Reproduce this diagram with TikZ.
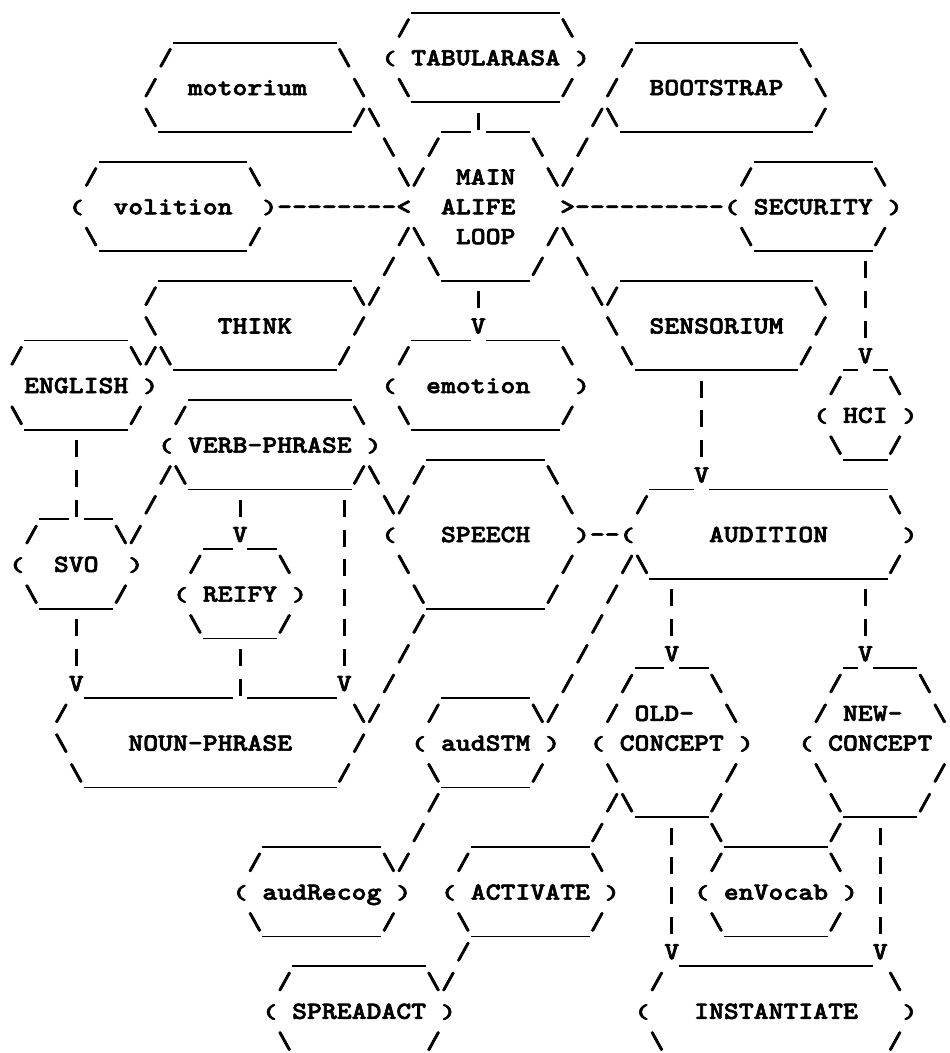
\documentclass[tikz,border=0pt]{standalone}
\usepackage{graphicx}
\usepackage{fontspec}
\setmonofont{lmmonolt10-bold.otf}[FakeStretch=1.15,FakeBold=2.5]
\newlength\cw
\setlength\cw{7.445pt}
\newcommand\artbar{\rule[-4pt]{\cw}{0.9pt}}
\newcommand\artpipe{\rule[-2.3pt]{1.5pt}{8.5pt}}
\newcommand\artend{}
\let\artvert=|
\let\artlp=(
\let\artrp=)
\def\artloop#1{\ifx#1\artend\else\artcell{#1}\expandafter\artloop\fi}
\def\artcell#1{\ifx#1\artvert\makebox[\cw]{\artpipe}\else
  \ifx#1\artlp\makebox[\cw]{\raisebox{0.3pt}{\scalebox{1.05}[0.82]{(}}}\else
  \ifx#1\artrp\makebox[\cw]{\raisebox{0.3pt}{\scalebox{1.05}[0.82]{)}}}\else
  \makebox[\cw]{#1}\fi\fi\fi}
\begingroup
\catcode`\ =\active\catcode`\_=\active%
\gdef\artcodes{\catcode`\ =\active\catcode`\_=\active\catcode`\\=12\relax\def {\kern\cw}\def_{\artbar}}%
\endgroup
\newcommand\art{\begingroup\artcodes\artput}
\newcommand\artput[3]{\node[ascii] (r#1c#2) at (#2,#1) {\artloop#3\artend};\endgroup}
\tikzset{ascii/.style={font=\ttfamily\fontsize{12.3pt}{14.9pt}\selectfont,
  inner sep=0pt, outer sep=0pt, anchor=base west}}
\begin{document}
\begin{tikzpicture}[x=7.445pt, y=-14.9pt]
  \fill[white] (0.379,-0.192) rectangle (64.18,35.147);
  \path[use as bounding box] (0.379,-0.192) rectangle (64.18,35.147);
  \art{0}{28}{__________}
  \art{1}{12}{___________} \art{1}{27}{/} \art{1}{38}{\} \art{1}{43}{___________}
  \art{2}{11}{/} \art{2}{23}{\} \art{2}{26}{( TABULARASA )} \art{2}{42}{/} \art{2}{54}{\}
  \art{3}{10}{/} \art{3}{13}{motorium} \art{3}{24}{\  \__________/  /} \art{3}{44}{BOOTSTRAP} \art{3}{55}{\}
  \art{4}{10}{\_____________/\} \art{4}{30}{__|___} \art{4}{40}{/\_____________/}
  \art{5}{7}{__________} \art{5}{26}{\  /} \art{5}{36}{\  /} \art{5}{51}{________}
  \art{6}{6}{/} \art{6}{17}{\} \art{6}{27}{\/  MAIN  \/} \art{6}{50}{/} \art{6}{59}{\}
  \art{7}{5}{(  volition  )--------<} \art{7}{30}{ALIFE} \art{7}{38}{>----------( SECURITY )}
  \art{8}{6}{\__________/} \art{8}{27}{/\  LOOP  /\} \art{8}{50}{\________/}
  \art{9}{11}{_____________} \art{9}{26}{/  \______/  \} \art{9}{42}{_____________} \art{9}{58}{|}
  \art{10}{10}{/} \art{10}{24}{\/} \art{10}{32}{|} \art{10}{40}{\/} \art{10}{55}{\  |}
  \art{11}{2}{_______} \art{11}{10}{\} \art{11}{15}{THINK} \art{11}{24}{/} \art{11}{28}{____V_____} \art{11}{41}{\} \art{11}{44}{SENSORIUM} \art{11}{55}{/  |}
  \art{12}{1}{/} \art{12}{9}{\/\___________/} \art{12}{27}{/} \art{12}{38}{\} \art{12}{42}{\___________/} \art{12}{57}{_V_}
  \art{13}{2}{ENGLISH )} \art{13}{13}{___________} \art{13}{26}{(  emotion   )} \art{13}{47}{|} \art{13}{56}{/   \}
  \art{14}{1}{\_______/} \art{14}{12}{/} \art{14}{24}{\  \__________/} \art{14}{47}{|} \art{14}{55}{( HCI )}
  \art{15}{5}{|} \art{15}{11}{( VERB-PHRASE )} \art{15}{29}{________} \art{15}{47}{|} \art{15}{56}{\___/}
  \art{16}{5}{|} \art{16}{11}{/\___________/\} \art{16}{28}{/} \art{16}{37}{\} \art{16}{44}{___V____________}
  \art{17}{3}{__|__} \art{17}{10}{/} \art{17}{16}{|} \art{17}{23}{|  \/} \art{17}{38}{\} \art{17}{43}{/} \art{17}{60}{\}
  \art{18}{2}{/} \art{18}{8}{\/} \art{18}{14}{__V__} \art{18}{23}{|  (} \art{18}{30}{SPEECH} \art{18}{39}{)--(} \art{18}{48}{AUDITION} \art{18}{61}{)}
  \art{19}{1}{(  SVO  )} \art{19}{13}{/} \art{19}{19}{\} \art{19}{23}{|   \} \art{19}{38}{/} \art{19}{42}{/\________________/}
  \art{20}{2}{\_____/} \art{20}{12}{( REIFY )} \art{20}{23}{|} \art{20}{28}{\________/} \art{20}{41}{/} \art{20}{45}{|} \art{20}{58}{|}
  \art{21}{5}{|} \art{21}{13}{\_____/} \art{21}{23}{|} \art{21}{28}{/} \art{21}{40}{/} \art{21}{45}{|} \art{21}{58}{|}
  \art{22}{5}{|} \art{22}{16}{|} \art{22}{23}{|   /} \art{22}{39}{/} \art{22}{43}{__V__} \art{22}{57}{_V___}
  \art{23}{5}{V__________|______V} \art{23}{26}{/} \art{23}{30}{______} \art{23}{38}{/} \art{23}{42}{/} \art{23}{48}{\} \art{23}{56}{/} \art{23}{62}{\}
  \art{24}{4}{/} \art{24}{24}{\/} \art{24}{29}{/} \art{24}{36}{\/} \art{24}{41}{/ OLD-  \} \art{24}{55}{/ NEW-  \}
  \art{25}{4}{\} \art{25}{9}{NOUN-PHRASE} \art{25}{24}{/} \art{25}{28}{( audSTM )} \art{25}{40}{( CONCEPT )} \art{25}{54}{( CONCEPT}
  \art{26}{5}{\_________________/} \art{26}{29}{\______/} \art{26}{41}{\} \art{26}{49}{/} \art{26}{55}{\} \art{26}{63}{/}
  \art{27}{29}{/} \art{27}{41}{/\_____/} \art{27}{56}{\_____/}
  \art{28}{18}{________} \art{28}{28}{/} \art{28}{32}{________/} \art{28}{45}{|  \_______/  |}
  \art{29}{17}{/} \art{29}{26}{\/} \art{29}{31}{/} \art{29}{40}{\} \art{29}{45}{|  /} \art{29}{56}{\  |}
  \art{30}{16}{( audRecog )} \art{30}{30}{( ACTIVATE )} \art{30}{45}{| ( enVocab ) |}
  \art{31}{17}{\________/} \art{31}{31}{\________/} \art{31}{45}{|  \_______/  |}
  \art{32}{20}{_________} \art{32}{31}{/} \art{32}{45}{V_____________V}
  \art{33}{19}{/} \art{33}{29}{\/} \art{33}{44}{/} \art{33}{60}{\}
  \art{34}{18}{( SPREADACT )} \art{34}{43}{(} \art{34}{47}{INSTANTIATE} \art{34}{61}{)}
  \art{35}{19}{\} \art{35}{29}{/} \art{35}{44}{\} \art{35}{60}{/}
\end{tikzpicture}
\end{document}
